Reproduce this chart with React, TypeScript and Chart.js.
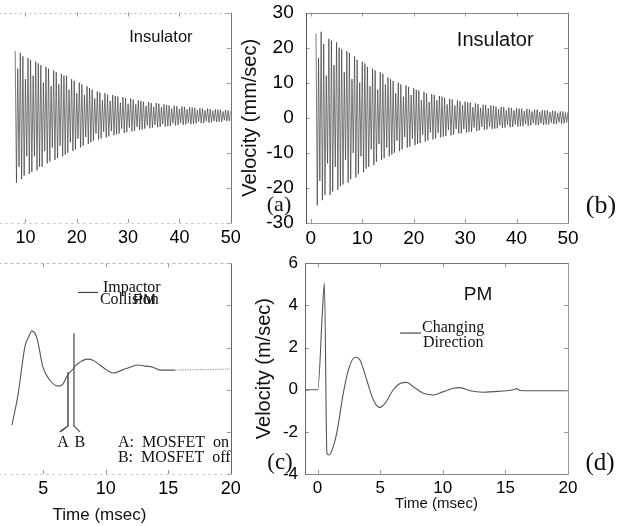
import React, { useEffect, useRef } from "react";
import { Chart, registerables } from "chart.js";
Chart.register(...registerables);

const SANS = '"Liberation Sans", Arial, sans-serif';
const SERIF = '"Liberation Serif", "Times New Roman", serif';

// ---------------- data ----------------
const PEAK_STEP = 0.5; // ms between successive upper peaks

// (a) Insulator – upper / lower peaks, first peak at 8 ms
const A_START = 8;
const A_UPPER = [
  19, 14, 18.5, 17.5, 11, 17, 16.5, 12, 16, 15.5,
  15, 10, 14.5, 14, 9, 13.5, 13, 9.5, 12.5, 12,
  12, 8, 11, 10.5, 7, 10, 9.5, 6.5, 9, 8.5,
  8, 5.5, 7.5, 7.2, 5, 7, 6.6, 4.8, 6.5, 6.2,
  6, 4.3, 5.9, 5.6, 4, 5.5, 5.2, 3.8, 5, 4.8,
  4.6, 3.4, 4.5, 4.2, 3.1, 4.2, 4, 3, 3.8, 3.6,
  3.5, 2.6, 3.4, 3.3, 2.5, 3.2, 3.1, 2.4, 3, 2.9,
  2.8, 2.2, 2.7, 2.6, 2.1, 2.6, 2.5, 2, 2.4, 2.3,
  2.3, 1.8, 2.2, 2.1, 2,
];
const A_LOWER = [
  -18.5, -14, -17.5, -16.5, -11, -16, -15.5, -11, -15, -14,
  -14, -9.5, -13, -12.5, -8.5, -12, -11.5, -8, -11, -10.5,
  -10, -7, -9.5, -9, -6, -8.5, -8, -5.5, -7.5, -7,
  -6.5, -4.5, -6.2, -5.9, -4, -5.6, -5.3, -3.8, -5, -4.7,
  -4.5, -3.1, -4.3, -4.1, -2.8, -3.9, -3.7, -2.6, -3.5, -3.3,
  -3.1, -2.2, -3, -2.8, -2, -2.7, -2.6, -1.8, -2.5, -2.4,
  -2.3, -1.6, -2.2, -2.1, -1.5, -2, -1.9, -1.4, -1.8, -1.7,
  -1.6, -1.1, -1.5, -1.5, -1, -1.4, -1.3, -0.9, -1.2, -1.1,
  -1.1, -0.7, -1, -0.9, -0.8,
];

// (b) Insulator – first peak at 1 ms
const B_START = 1;
const B_UPPER = [
  24, 17, 24.5, 21, 12, 22.5, 22, 15, 21.5, 20,
  19.5, 13, 19, 18.5, 11, 17.5, 16.5, 10, 16, 15.5,
  14.5, 9, 14, 13.5, 8, 13, 12.5, 9.5, 11.5, 11,
  10.5, 7, 10, 9.5, 6, 9.2, 8.8, 6.5, 8.4, 8,
  7.8, 5, 7.4, 7, 4.5, 6.8, 6.5, 5, 6.2, 6,
  5.7, 3.8, 5.4, 5.2, 3.5, 4.9, 4.7, 3.6, 4.6, 4.4,
  4.3, 3, 4.1, 3.9, 2.8, 3.7, 3.6, 2.7, 3.5, 3.4,
  3.2, 2.4, 3.1, 3, 2.2, 2.9, 2.8, 2.1, 2.7, 2.6,
  2.6, 1.9, 2.5, 2.4, 1.8, 2.3, 2.3, 1.7, 2.2, 2.1,
  2.1, 1.6, 2, 1.9, 1.4, 1.8, 1.8, 1.5, 1.7,
];
const B_LOWER = [
  -25, -18, -23.5, -22, -13, -22, -21, -14, -20.5, -19.5,
  -19, -12, -18.5, -17.5, -10, -17, -16, -11, -15.5, -14.5,
  -14, -9, -13.5, -12.5, -7.5, -12, -11.5, -8.5, -11, -10.5,
  -10, -6.5, -9.5, -9, -5.5, -8.5, -8.2, -6, -7.8, -7.4,
  -7.2, -4.8, -6.8, -6.5, -4.2, -6.2, -5.9, -4.3, -5.6, -5.4,
  -5.2, -3.5, -5, -4.8, -3.2, -4.5, -4.4, -3.2, -4.2, -4,
  -4, -2.8, -3.8, -3.6, -2.6, -3.4, -3.3, -2.5, -3.2, -3.1,
  -3, -2.2, -2.9, -2.8, -2, -2.7, -2.6, -1.9, -2.5, -2.4,
  -2.4, -1.8, -2.3, -2.2, -1.6, -2.1, -2.1, -1.6, -2, -1.9,
  -1.9, -1.4, -1.8, -1.8, -1.3, -1.7, -1.6, -1.3, -1.5,
];

// (c) PM with MOSFET switching
const C_TIME = [2.5, 2.98, 3.54, 3.86, 4.1, 4.5, 4.98, 5.54, 6.18, 6.58, 6.9, 7.14, 7.38, 7.54, 7.94, 8.5, 8.98, 9.54, 10.1, 10.58, 11.3, 11.94, 12.58, 13.2, 13.78, 14.34, 15.54];
const C_VEL = [-1.68, -0.26, 2.05, 2.54, 2.78, 2.45, 1.07, 0.45, 0.17, 0.27, 0.64, 0.83, 0.97, 1.12, 1.31, 1.45, 1.4, 1.17, 0.93, 0.79, 0.93, 1.07, 1.17, 1.12, 1.07, 0.93, 0.93];
const C_TAIL_TIME = [15.54, 20];
const C_TAIL_VEL = [0.93, 0.98];
const C_MARK_A_TIME = [6.34, 6.98, 6.98];
const C_MARK_A_VEL = [-2.0, -1.72, 0.83];
const C_MARK_B_TIME = [7.94, 7.46, 7.46];
const C_MARK_B_VEL = [-2.0, -1.72, 2.68];
const C_DASH_TIME = [7.78, 9.38];
const C_DASH_VEL = [4.62, 4.62];

// (d) PM velocity (m/sec)
const D_TIME = [-1, 0.02, 0.4, 0.55, 0.75, 0.9, 1.1, 1.53, 2.06, 2.46, 2.99, 3.39, 3.93, 4.46, 4.94, 5.39, 6.05, 6.59, 7.12, 7.65, 8.45, 9.25, 10.05, 10.85, 11.38, 12.18, 13.24, 14.04, 15.1, 15.64, 15.9, 16.17, 17, 18, 19, 20];
const D_VEL = [0, 0, 3.8, 5.05, -3.0, -3.1, -2.95, -2.07, -0.16, 0.93, 1.54, 1.41, 0.46, -0.49, -0.84, -0.65, 0, 0.3, 0.35, 0.14, -0.17, -0.25, -0.09, 0.07, 0.1, -0.05, -0.12, -0.09, -0.05, 0.0, 0.05, -0.04, -0.05, -0.05, -0.05, -0.05];
const D_DASH_TIME = [6.59, 8.27];
const D_DASH_VEL = [2.69, 2.69];

// tick labels
const X_TICKS_A = [10, 20, 30, 40, 50];
const X_TICKS_B = [0, 10, 20, 30, 40, 50];
const Y_TICKS_AB = [-30, -20, -10, 0, 10, 20, 30];
const X_TICKS_C = [5, 10, 15, 20];
const X_TICKS_D = [0, 5, 10, 15, 20];
const Y_TICKS_CD = [-4, -2, 0, 2, 4, 6];

// ---------------- helpers ----------------
type Pt = { x: number; y: number };
function zigzag(start: number, upper: number[], lower: number[]): Pt[] {
  const pts: Pt[] = [];
  upper.forEach((u, i) => {
    const t = start + i * PEAK_STEP;
    pts.push({ x: t, y: u });
    if (i < lower.length) pts.push({ x: t + PEAK_STEP / 2, y: lower[i] });
  });
  return pts;
}
function pairs(xs: number[], ys: number[]): Pt[] {
  return xs.map((x, i) => ({ x, y: ys[i] }));
}

type Side = { color: string; dash?: number[] };
type Txt = { text: string; x: number; y: number; font: string; align?: CanvasTextAlign };
interface Panel {
  canvas: { left: number; top: number; width: number; height: number };
  area: { left: number; top: number; right: number; bottom: number };
  xMin: number; xMax: number; yMin: number; yMax: number;
  xTicks: number[]; yTicks: number[];
  showY: boolean;
  xTickSize: number; yTickSize: number; xTickPad: number; yTickPad: number;
  xTitle?: { text: string; size: number; pad: number };
  yTitle?: { text: string; size: number; pad: number };
  datasets: any[];
  texts: Txt[];
  box: { top: Side; right: Side; bottom: Side; left: Side };
}

const osc = (data: Pt[]) => ({
  data, borderColor: "rgba(50,50,50,0.8)", borderWidth: 0.8, pointRadius: 0, tension: 0,
});
const curve = (data: Pt[], color = "#555", width = 1.1, dash: number[] = []) => ({
  data, borderColor: color, borderWidth: width, pointRadius: 0, cubicInterpolationMode: "monotone", borderDash: dash,
});
const seg = (data: Pt[], color = "#333", width = 1.1) => ({
  data, borderColor: color, borderWidth: width, pointRadius: 0, tension: 0,
});

const PANELS: Panel[] = [
  {
    canvas: { left: -100, top: 0, width: 340, height: 250 },
    area: { left: -31, top: 12.5, right: 230.7, bottom: 223 },
    xMin: -1, xMax: 50, yMin: -30, yMax: 30,
    xTicks: X_TICKS_A, yTicks: Y_TICKS_AB, showY: false,
    xTickSize: 18, yTickSize: 18, xTickPad: 4, yTickPad: 12,
    datasets: [osc(zigzag(A_START, A_UPPER, A_LOWER))],
    texts: [{ text: "Insulator", x: 36.4, y: 22.9, font: `16.5px ${SANS}` }],
    box: { top: { color: "#bbb", dash: [2, 3] }, right: { color: "#777" }, bottom: { color: "#bbb", dash: [2, 4] }, left: { color: "#fff" } },
  },
  {
    canvas: { left: 240, top: 0, width: 392, height: 250 },
    area: { left: 305.7, top: 12.5, right: 568, bottom: 223 },
    xMin: -1, xMax: 50, yMin: -30, yMax: 30,
    xTicks: X_TICKS_B, yTicks: Y_TICKS_AB, showY: true,
    xTickSize: 19, yTickSize: 19, xTickPad: 4, yTickPad: 12,
    yTitle: { text: "Velocity (mm/sec)", size: 20, pad: 0.5 },
    datasets: [osc(zigzag(B_START, B_UPPER, B_LOWER))],
    texts: [{ text: "Insulator", x: 35.85, y: 21.9, font: `20px ${SANS}` }],
    box: { top: { color: "#888" }, right: { color: "#777" }, bottom: { color: "#999" }, left: { color: "#555" } },
  },
  {
    canvas: { left: -100, top: 250, width: 340, height: 276 },
    area: { left: -31.8, top: 263.3, right: 230.7, bottom: 474 },
    xMin: -1, xMax: 20, yMin: -4, yMax: 6,
    xTicks: X_TICKS_C, yTicks: Y_TICKS_CD, showY: false,
    xTickSize: 18, yTickSize: 18, xTickPad: 4, yTickPad: 8,
    xTitle: { text: "Time (msec)", size: 17, pad: 2.5 },
    datasets: [
      curve(pairs(C_TIME, C_VEL)),
      curve(pairs(C_TAIL_TIME, C_TAIL_VEL), "#999", 1, [1.5, 1]),
      seg(pairs(C_MARK_A_TIME, C_MARK_A_VEL), "#333", 1.3),
      seg(pairs(C_MARK_B_TIME, C_MARK_B_VEL), "#555", 1.3),
      seg(pairs(C_DASH_TIME, C_DASH_VEL), "#222", 1),
    ],
    texts: [
      { text: "Impactor", x: 9.78, y: 4.86, font: `16px ${SERIF}`, align: "left" },
      { text: "Collision", x: 9.54, y: 4.25, font: `16px ${SERIF}`, align: "left" },
      { text: "PM", x: 13.1, y: 4.25, font: `15px ${SANS}` },
      { text: "A", x: 6.58, y: -2.53, font: `16px ${SERIF}` },
      { text: "B", x: 7.94, y: -2.53, font: `16px ${SERIF}` },
      { text: "A:  MOSFET  on", x: 10.98, y: -2.53, font: `16px ${SERIF}`, align: "left" },
      { text: "B:  MOSFET  off", x: 10.98, y: -3.24, font: `16px ${SERIF}`, align: "left" },
    ],
    box: { top: { color: "#bbb", dash: [3, 3] }, right: { color: "#666" }, bottom: { color: "#bbb", dash: [2, 4] }, left: { color: "#fff" } },
  },
  {
    canvas: { left: 240, top: 250, width: 392, height: 276 },
    area: { left: 305, top: 263.3, right: 568, bottom: 474 },
    xMin: -1, xMax: 20, yMin: -4, yMax: 6,
    xTicks: X_TICKS_D, yTicks: Y_TICKS_CD, showY: true,
    xTickSize: 17, yTickSize: 17, xTickPad: 4, yTickPad: 7,
    xTitle: { text: "Time (msec)", size: 15, pad: 14.5 },
    yTitle: { text: "Velocity (m/sec)", size: 20, pad: 14 },
    datasets: [
      curve(pairs(D_TIME, D_VEL)),
      seg(pairs(D_DASH_TIME, D_DASH_VEL), "#222", 1),
    ],
    texts: [
      { text: "PM", x: 12.82, y: 4.49, font: `19px ${SANS}` },
      { text: "Changing", x: 8.35, y: 2.93, font: `16px ${SERIF}`, align: "left" },
      { text: "Direction", x: 8.42, y: 2.22, font: `16px ${SERIF}`, align: "left" },
    ],
    box: { top: { color: "#777" }, right: { color: "#999" }, bottom: { color: "#888" }, left: { color: "#666" } },
  },
];

const LETTERS = [
  { text: "(a)", x: 279, y: 204, size: 22 },
  { text: "(b)", x: 601, y: 205, size: 26 },
  { text: "(c)", x: 280, y: 461, size: 23 },
  { text: "(d)", x: 600, y: 461, size: 25 },
];

function decor(p: Panel) {
  return {
    id: "decor",
    afterDraw(chart: any) {
      const { ctx, chartArea: a, scales } = chart;
      const xs = scales.x, ys = scales.y;
      ctx.save();
      // inside ticks
      ctx.strokeStyle = "#999";
      ctx.lineWidth = 1;
      ctx.setLineDash([]);
      ctx.beginPath();
      p.xTicks.forEach((v) => {
        const px = Math.round(xs.getPixelForValue(v)) + 0.5;
        ctx.moveTo(px, a.bottom); ctx.lineTo(px, a.bottom - 4);
        ctx.moveTo(px, a.top); ctx.lineTo(px, a.top + 4);
      });
      p.yTicks.forEach((v) => {
        const py = Math.round(ys.getPixelForValue(v)) + 0.5;
        ctx.moveTo(a.left, py); ctx.lineTo(a.left + 4, py);
        ctx.moveTo(a.right, py); ctx.lineTo(a.right - 4, py);
      });
      ctx.stroke();
      // box
      const L = Math.round(a.left) + 0.5, R = Math.round(a.right) + 0.5;
      const T = Math.round(a.top) + 0.5, B = Math.round(a.bottom) + 0.5;
      const side = (s: Side, x1: number, y1: number, x2: number, y2: number) => {
        ctx.beginPath();
        ctx.strokeStyle = s.color;
        ctx.setLineDash(s.dash || []);
        ctx.moveTo(x1, y1); ctx.lineTo(x2, y2);
        ctx.stroke();
      };
      side(p.box.top, L, T, R, T);
      side(p.box.bottom, L, B, R, B);
      side(p.box.left, L, T, L, B);
      side(p.box.right, R, T, R, B);
      ctx.setLineDash([]);
      // annotations
      ctx.fillStyle = "#111";
      ctx.textBaseline = "middle";
      p.texts.forEach((t) => {
        ctx.font = t.font;
        ctx.textAlign = t.align || "center";
        ctx.fillText(t.text, xs.getPixelForValue(t.x), ys.getPixelForValue(t.y));
      });
      ctx.restore();
    },
  };
}

function zeroPad(s: any) {
  s.paddingTop = 0; s.paddingBottom = 0; s.paddingLeft = 0; s.paddingRight = 0;
}

function buildConfig(p: Panel): any {
  const yAxisWidth = p.area.left - p.canvas.left;
  const padTop = p.area.top - p.canvas.top;
  const padRight = p.canvas.left + p.canvas.width - p.area.right;
  const xAxisHeight = p.canvas.top + p.canvas.height - p.area.bottom;
  return {
    type: "line",
    data: { datasets: p.datasets },
    options: {
      responsive: false,
      animation: false,
      events: [],
      layout: { padding: { left: 0, top: padTop, right: padRight, bottom: 0 } },
      plugins: { legend: { display: false }, tooltip: { enabled: false } },
      scales: {
        x: {
          type: "linear", min: p.xMin, max: p.xMax,
          grid: { display: false, drawTicks: false, tickLength: 0 },
          border: { display: false },
          afterBuildTicks: (s: any) => { s.ticks = p.xTicks.map((v) => ({ value: v })); },
          afterFit: (s: any) => { s.height = xAxisHeight; zeroPad(s); },
          ticks: { color: "#000", padding: p.xTickPad, maxRotation: 0, autoSkip: false, font: { family: SANS, size: p.xTickSize } },
          title: p.xTitle
            ? { display: true, text: p.xTitle.text, color: "#111", font: { family: SANS, size: p.xTitle.size, lineHeight: 1 }, padding: { top: 0, bottom: p.xTitle.pad } }
            : { display: false },
        },
        y: {
          type: "linear", min: p.yMin, max: p.yMax,
          grid: { display: false, drawTicks: false, tickLength: 0 },
          border: { display: false },
          afterBuildTicks: (s: any) => { s.ticks = p.yTicks.map((v) => ({ value: v })); },
          afterFit: (s: any) => { s.width = yAxisWidth; zeroPad(s); },
          ticks: { display: p.showY, color: "#000", padding: p.yTickPad, autoSkip: false, font: { family: SANS, size: p.yTickSize } },
          title: p.yTitle
            ? { display: true, text: p.yTitle.text, color: "#111", font: { family: SANS, size: p.yTitle.size, lineHeight: 1 }, padding: { top: p.yTitle.pad, bottom: 0 } }
            : { display: false },
        },
      },
    },
    plugins: [decor(p)],
  };
}

export default function App() {
  const canvases = useRef<(HTMLCanvasElement | null)[]>([]);
  useEffect(() => {
    const charts = PANELS.map((p, i) => new Chart(canvases.current[i] as HTMLCanvasElement, buildConfig(p)));
    return () => charts.forEach((c) => c.destroy());
  }, []);
  return (
    <div style={{ position: "absolute", left: 0, top: 0, width: 632, height: 526, overflow: "hidden", background: "#fff" }}>
      {PANELS.map((p, i) => (
        <canvas
          key={i}
          ref={(el) => { canvases.current[i] = el; }}
          width={p.canvas.width}
          height={p.canvas.height}
          style={{ position: "absolute", left: p.canvas.left, top: p.canvas.top, width: p.canvas.width, height: p.canvas.height }}
        />
      ))}
      {LETTERS.map((l) => (
        <div
          key={l.text}
          style={{
            position: "absolute", left: l.x, top: l.y, transform: "translate(-50%, -50%)",
            font: `${l.size}px ${SERIF}`, lineHeight: 1, whiteSpace: "nowrap", color: "#111",
          }}
        >
          {l.text}
        </div>
      ))}
    </div>
  );
}
